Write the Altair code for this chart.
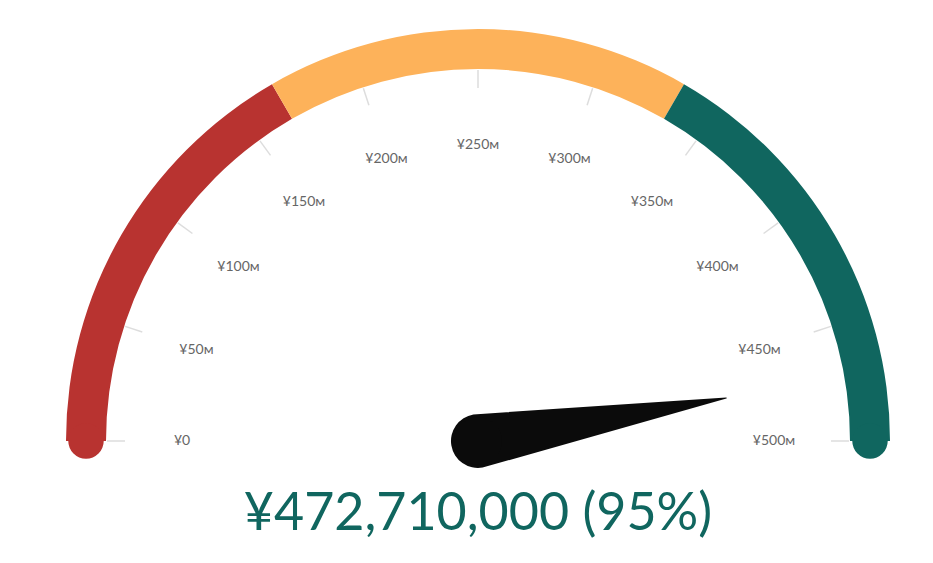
import altair as alt
import pandas as pd

band_start = [0, 166.67, 333.33]
band_end = [166.67, 333.33, 500]
band_color = ["#B83330", "#FDB25A", "#10665F"]
tick_values = [0, 50, 100, 150, 200, 250, 300, 350, 400, 450, 500]
tick_labels = ["¥0", "¥50м", "¥100м", "¥150м", "¥200м", "¥250м", "¥300м",
               "¥350м", "¥400м", "¥450м", "¥500м"]
current_value = 472.71
headline = "¥472,710,000 (95%)"

CX, CY = 470, 433
MAX = 500
W, H = 917, 547

X = alt.X("x:Q", scale=alt.Scale(domain=[0, W]), axis=None)
Y = alt.Y("y:Q", scale=alt.Scale(domain=[0, H], reverse=True), axis=None)

ang = f"PI * datum.v / {MAX}"
def px(r):
    return f"{CX} - {r} * cos({ang})"
def py(r):
    return f"{CY} - {r} * sin({ang})"

center = pd.DataFrame({"x": [CX], "y": [CY]})

bands = pd.DataFrame({"a": band_start, "b": band_end, "c": band_color, "x": CX, "y": CY})
arcs = alt.Chart(bands).transform_calculate(
    t0=f"-PI/2 + PI * datum.a / {MAX}", t1=f"-PI/2 + PI * datum.b / {MAX}"
).mark_arc(innerRadius=372, outerRadius=412).encode(
    x=X, y=Y,
    theta=alt.Theta("t0:Q", scale=None), theta2="t1:Q",
    color=alt.Color("c:N", scale=None),
)

caps = alt.Chart(pd.DataFrame({"v": [0, MAX], "c": [band_color[0], band_color[-1]]})).transform_calculate(
    x=px(392), y=py(392)
).mark_circle(size=1257, opacity=1).encode(x=X, y=Y, color=alt.Color("c:N", scale=None))

ticks_df = pd.DataFrame({"v": tick_values, "label": tick_labels})
ticks = alt.Chart(ticks_df).transform_calculate(
    x=px(353), y=py(353), x2=px(371), y2=py(371)
).mark_rule(color="#dddddd", strokeWidth=1.5).encode(x=X, y=Y, x2="x2:Q", y2="y2:Q")

labels = alt.Chart(ticks_df).transform_calculate(
    x=px(296), y=py(296)
).mark_text(fontSize=14, color="#666666", font="Lato").encode(x=X, y=Y, text="label:N")

needle_df = pd.DataFrame({"v": [current_value, current_value], "r": [0, 252], "s": [54, 0], "o": [0, 1]})
needle = alt.Chart(needle_df).transform_calculate(
    x=f"{CX} - datum.r * cos({ang})", y=f"{CY} - datum.r * sin({ang})"
).mark_trail(color="#0b0b0b").encode(
    x=X, y=Y, order="o:Q", size=alt.Size("s:Q", scale=None, legend=None)
)

hub = alt.Chart(center).mark_circle(size=2290, color="#0b0b0b", opacity=1).encode(x=X, y=Y)

title = alt.Chart(pd.DataFrame({"x": [CX], "y": [522], "t": [headline]})).mark_text(
    fontSize=52, color="#10665F", font="Lato", baseline="alphabetic"
).encode(x=X, y=Y, text="t:N")

chart = alt.layer(arcs, caps, ticks, labels, needle, hub, title).properties(
    width=W, height=H, padding=0, autosize="none"
).configure_view(stroke=None)

chart.save("out.html", embed_options={"renderer": "svg", "actions": False})
